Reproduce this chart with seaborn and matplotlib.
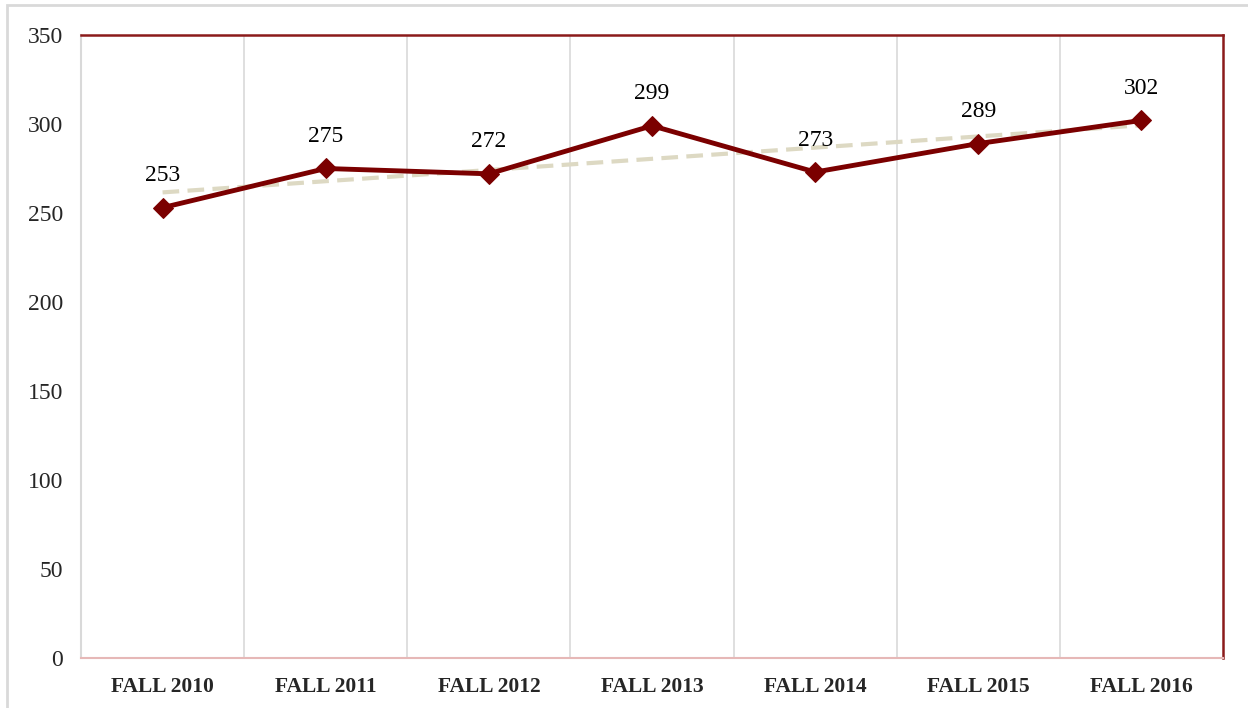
import numpy as np
import pandas as pd
import seaborn as sns
import matplotlib.pyplot as plt
from matplotlib.patches import Rectangle

# chart values
terms = ['FALL 2010', 'FALL 2011', 'FALL 2012', 'FALL 2013', 'FALL 2014', 'FALL 2015', 'FALL 2016']
counts = [253, 275, 272, 299, 273, 289, 302]
y_ticks = [0, 50, 100, 150, 200, 250, 300, 350]

df = pd.DataFrame({'term': terms, 'count': counts})
df['pos'] = np.arange(len(terms))

# linear trendline like the spreadsheet one
slope, icpt = np.polyfit(df['pos'], df['count'], 1)
df['trend'] = icpt + slope * df['pos']

sns.set_theme(style='white')
plt.rcParams['font.family'] = ['Liberation Serif', 'DejaVu Serif']

fig = plt.figure(figsize=(12.48, 7.08), dpi=100)
ax = fig.add_axes([0.0649, 0.0706, 0.9151, 0.88])

# vertical grid between categories
for b in np.arange(0.5, len(terms) - 1, 1):
    ax.axvline(b, color='#d9d9d9', lw=1.2, zorder=0)

sns.lineplot(data=df, x='pos', y='trend', ax=ax, color='#ddd9c3', lw=3,
             linestyle=(0, (4, 2)), zorder=2)
sns.lineplot(data=df, x='pos', y='count', ax=ax, color='#7b0000', lw=3.5,
             marker='D', markersize=10, markeredgecolor='#7b0000', zorder=3)

for x, y in zip(df['pos'], df['count']):
    ax.text(x, y + 12, str(y), ha='center', va='bottom', fontsize=17, color='black')

ax.set_xlim(-0.5, len(terms) - 0.5)
ax.set_ylim(0, 350)
ax.set_yticks(y_ticks)
ax.set_yticklabels([str(v) for v in y_ticks], fontsize=17)
ax.set_xticks(df['pos'])
ax.set_xticklabels(terms, fontsize=15.5, fontweight='bold')
ax.tick_params(axis='x', pad=14, length=0)
ax.tick_params(axis='y', pad=13, length=0)
ax.set_xlabel('')
ax.set_ylabel('')

ax.spines['top'].set_color('#8b1a1a')
ax.spines['top'].set_linewidth(1.8)
ax.spines['right'].set_color('#8b1a1a')
ax.spines['right'].set_linewidth(1.8)
ax.spines['left'].set_color('#d9d9d9')
ax.spines['left'].set_linewidth(1.5)
ax.spines['bottom'].set_color('#e6b8b7')
ax.spines['bottom'].set_linewidth(1.5)

# light frame around the whole figure
fig.patches.append(Rectangle((0.0056, -0.01), 1.1, 1.003, transform=fig.transFigure,
                             fill=False, edgecolor='#d9d9d9', lw=2))

fig.savefig('out.png', dpi=100)
